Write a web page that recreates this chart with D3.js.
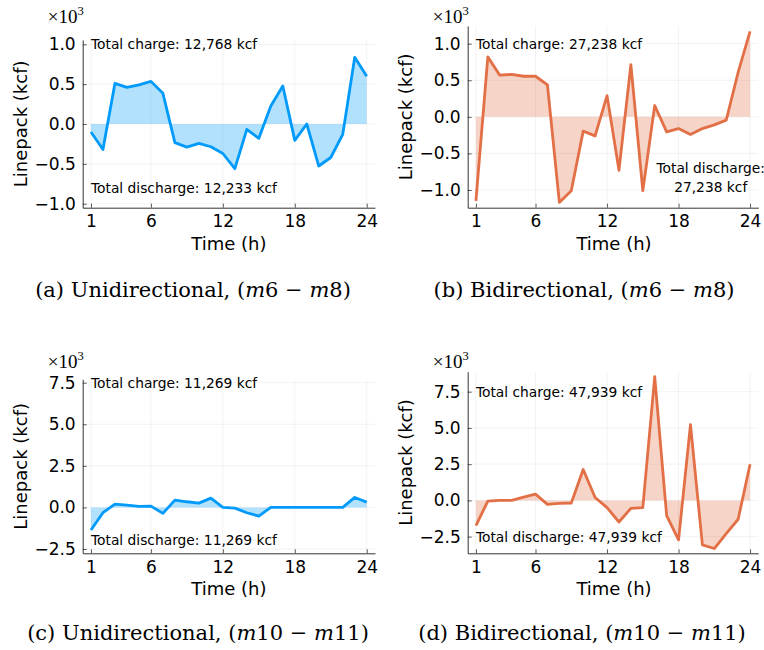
<!DOCTYPE html>
<html>
<head>
<meta charset="utf-8">
<script src="https://cdn.jsdelivr.net/npm/d3@7"></script>
<style>
  html, body { margin: 0; padding: 0; background: #fff; }
  svg { display: block; }
  .tick-label { font-family: "DejaVu Sans", sans-serif; font-size: 17px; fill: #000; }
  .axis-title { font-family: "DejaVu Sans", sans-serif; font-size: 18px; fill: #000; }
  .note { font-family: "DejaVu Sans", sans-serif; font-size: 13.8px; fill: #000; }
  .serif { font-family: "DejaVu Serif", "Liberation Serif", serif; fill: #000; }
  .mult { font-family: "Liberation Serif", "DejaVu Serif", serif; fill: #000; }
</style>
</head>
<body>
<svg id="chart" width="764" height="650"></svg>
<script>
const hours = [1, 2, 3, 4, 5, 6, 7, 8, 9, 10, 11, 12, 13, 14, 15, 16, 17, 18, 19, 20, 21, 22, 23, 24];
const xTicks = [1, 6, 12, 18, 24];
const yTicksTop = [-1.0, -0.5, 0.0, 0.5, 1.0];
const yTicksBottom = [-2.5, 0.0, 2.5, 5.0, 7.5];

// linepack change, in thousands of kcf
const uniM6M8 = [-0.10, -0.32, 0.51, 0.46, 0.49, 0.535, 0.385, -0.234, -0.29, -0.243, -0.285, -0.37,
  -0.56, -0.067, -0.18, 0.226, 0.477, -0.205, 0.0, -0.527, -0.42, -0.13, 0.837, 0.598];
const biM6M8 = [-1.15, 0.82, 0.57, 0.58, 0.555, 0.555, 0.436, -1.17, -1.01, -0.195, -0.26, 0.29,
  -0.73, 0.714, -1.01, 0.155, -0.205, -0.16, -0.24, -0.16, -0.11, -0.045, 0.61, 1.17];
const uniM10M11 = [-1.36, -0.32, 0.2, 0.14, 0.06, 0.08, -0.36, 0.44, 0.34, 0.26, 0.56, 0.0,
  -0.04, -0.32, -0.52, 0.0, 0.0, 0.0, 0.0, 0.0, 0.0, 0.0, 0.6, 0.32];
const biM10M11 = [-1.74, -0.05, 0.0, 0.0, 0.23, 0.43, -0.27, -0.2, -0.18, 2.13, 0.2, -0.5,
  -1.49, -0.55, -0.5, 8.54, -1.05, -2.72, 5.22, -3.07, -3.32, -2.29, -1.3, 2.49];

const chargeNotes = ['Total charge: 12,768 kcf', 'Total charge: 27,238 kcf',
  'Total charge: 11,269 kcf', 'Total charge: 47,939 kcf'];
const dischargeNotes = [['Total discharge: 12,233 kcf'], ['Total discharge:', '27,238 kcf'],
  ['Total discharge: 11,269 kcf'], ['Total discharge: 47,939 kcf']];
const captions = ['(a) Unidirectional, (m6 − m8)', '(b) Bidirectional, (m6 − m8)',
  '(c) Unidirectional, (m10 − m11)', '(d) Bidirectional, (m10 − m11)'];

const BLUE = '#009AFA';
const ORANGE = '#E26F46';

const panels = [
  { values: uniM6M8, color: BLUE, ticks: yTicksTop, yDomain: [-1.05, 1.054],
    box: [82.7, 375, 40, 207.7], chargeAt: [1, 1.0], dischargeAt: [1, -0.8], dischargeAnchor: 'start',
    captionX: 193, captionY: 297 },
  { values: biM6M8, color: ORANGE, ticks: yTicksTop, yDomain: [-1.242, 1.242],
    box: [467.7, 758.3, 26, 207.7], chargeAt: [1, 1.0], dischargeAt: [20.7, -0.83], dischargeAnchor: 'middle',
    captionX: 584, captionY: 297 },
  { values: uniM10M11, color: BLUE, ticks: yTicksBottom, yDomain: [-2.759, 7.704],
    box: [82.7, 375, 379.3, 553.3], chargeAt: [1, 7.5], dischargeAt: [1, -1.96], dischargeAnchor: 'start',
    captionX: 198, captionY: 640 },
  { values: biM10M11, color: ORANGE, ticks: yTicksBottom, yDomain: [-3.65, 8.88],
    box: [467.7, 758.3, 371.7, 553.3], chargeAt: [1, 7.5], dischargeAt: [1, -2.55], dischargeAnchor: 'start',
    captionX: 582, captionY: 640 },
];

const svg = d3.select('#chart');
const minus = (s) => s.replace('-', '−');

panels.forEach((p, i) => {
  const [left, right, top, bottom] = p.box;
  const x = d3.scaleLinear().domain([0.31, 24.69]).range([left, right]);
  const y = d3.scaleLinear().domain(p.yDomain).range([bottom, top]);
  const g = svg.append('g');

  // grid
  g.append('g').selectAll('line').data(xTicks).join('line')
    .attr('x1', (d) => x(d)).attr('x2', (d) => x(d)).attr('y1', top).attr('y2', bottom)
    .attr('stroke', '#000').attr('stroke-opacity', 0.08).attr('stroke-width', 0.7);
  g.append('g').selectAll('line').data(p.ticks).join('line')
    .attr('x1', left).attr('x2', right).attr('y1', (d) => y(d)).attr('y2', (d) => y(d))
    .attr('stroke', '#000').attr('stroke-opacity', 0.08).attr('stroke-width', 0.7);

  const rows = hours.map((h, k) => [h, p.values[k]]);

  g.append('path').datum(rows)
    .attr('d', d3.area().x((d) => x(d[0])).y0(y(0)).y1((d) => y(d[1])))
    .attr('fill', p.color).attr('fill-opacity', 0.3);

  g.append('path').datum(rows)
    .attr('d', d3.line().x((d) => x(d[0])).y((d) => y(d[1])))
    .attr('fill', 'none').attr('stroke', p.color).attr('stroke-width', 2.8)
    .attr('stroke-linejoin', 'round');

  // axes
  const xAxis = d3.axisBottom(x).tickValues(xTicks).tickSizeInner(-4).tickSizeOuter(0).tickPadding(8);
  const gx = g.append('g').attr('transform', `translate(0,${bottom})`).call(xAxis);
  const yAxis = d3.axisLeft(y).tickValues(p.ticks).tickSizeInner(-4).tickSizeOuter(0).tickPadding(7)
    .tickFormat((d) => minus(d3.format('.1f')(d)));
  const gy = g.append('g').attr('transform', `translate(${left},0)`).call(yAxis);
  for (const ax of [gx, gy]) {
    ax.attr('font-family', null).attr('font-size', null);
    ax.select('.domain').attr('stroke', '#333').attr('stroke-width', 1);
    ax.selectAll('.tick line').attr('stroke', '#333').attr('stroke-width', 0.8);
    ax.selectAll('.tick text').attr('class', 'tick-label');
  }
  gx.selectAll('.tick text').attr('dy', '0.68em');

  g.append('text').attr('class', 'axis-title')
    .attr('x', (left + right) / 2 + (i % 2 ? 1 : 0)).attr('y', bottom + 42)
    .attr('text-anchor', 'middle').text('Time (h)');

  g.append('text').attr('class', 'axis-title')
    .attr('transform', `translate(${left - 62.5},${(top + bottom) / 2}) rotate(-90)`)
    .attr('text-anchor', 'middle').attr('dy', '0.35em').text('Linepack (kcf)');

  // x10^3 multiplier
  const mult = g.append('text').attr('class', 'mult')
    .attr('x', left - 35).attr('y', i < 2 ? 22.5 : 367.5).attr('font-size', 19);
  mult.append('tspan').text('×10');
  mult.append('tspan').attr('font-size', 12.5).attr('dy', -8).text('3');

  // notes
  g.append('text').attr('class', 'note')
    .attr('x', x(p.chargeAt[0])).attr('y', y(p.chargeAt[1])).attr('dy', '0.35em')
    .text(chargeNotes[i]);
  const lines = dischargeNotes[i];
  const dn = g.append('text').attr('class', 'note').attr('text-anchor', p.dischargeAnchor);
  lines.forEach((line, k) => {
    dn.append('tspan').attr('x', x(p.dischargeAt[0]))
      .attr('y', y(p.dischargeAt[1]) + (k - (lines.length - 1) / 2) * 18.4)
      .attr('dy', '0.35em').text(line);
  });

  // caption with italic m
  const cap = g.append('text').attr('class', 'serif').attr('font-size', 21)
    .attr('x', p.captionX).attr('y', p.captionY).attr('text-anchor', 'middle');
  captions[i].split(/(m)(?=\d)/).forEach((part) => {
    if (!part) return;
    cap.append('tspan').attr('font-style', part === 'm' ? 'italic' : null).text(part);
  });
});
</script>
</body>
</html>
